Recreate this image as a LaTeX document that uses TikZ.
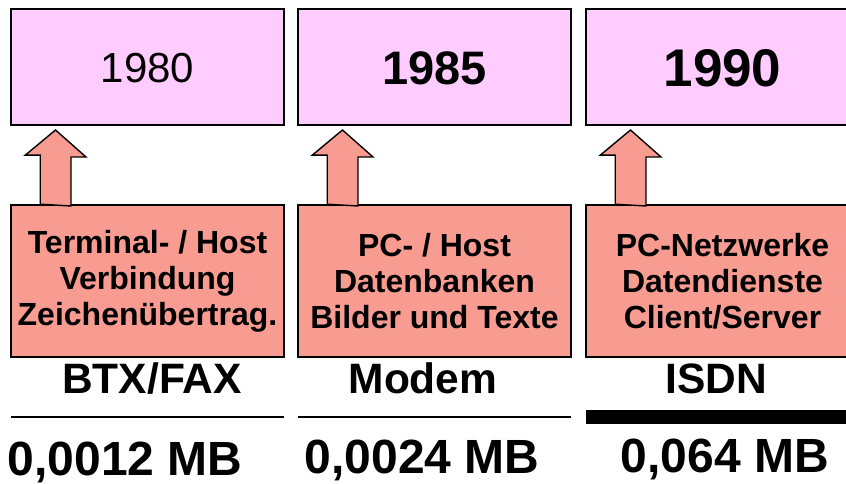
\documentclass[tikz,border=0pt]{standalone}
\usepackage{fontspec}
\setmainfont{Liberation Sans}
\definecolor{toppink}{RGB}{255,204,255}
\definecolor{salmon}{RGB}{248,156,145}
\begin{document}
\begin{tikzpicture}[x=1pt,y=-1pt,
  yearbox/.style={draw=black,line width=2pt,fill=toppink,minimum width=273pt,minimum height=116pt,inner sep=0pt},
  infobox/.style={draw=black,line width=1.6pt,fill=salmon,minimum width=273pt,minimum height=152pt,inner sep=0pt,
    align=center,font=\bfseries\fontsize{32}{36}\selectfont},
  uparrow/.style={draw=black,line width=1.4pt,fill=salmon,line join=miter},
  techlabel/.style={anchor=base,font=\bfseries\fontsize{42.5}{42.5}\selectfont,inner sep=0pt},
  mblabel/.style={anchor=base,font=\bfseries\fontsize{48}{48}\selectfont,inner sep=0pt,text depth=0pt},
  sepline/.style={draw=black,line width=2pt}]
\useasboundingbox (0,0) rectangle (846,484);
\clip (0,0) rectangle (846,484);
\fill[white] (0,0) rectangle (846,484);

% year boxes
\node[yearbox] (t1) at (147.5,67) {};
\node[yearbox] (t2) at (434.5,67) {};
\node[yearbox] (t3) at (722.5,67) {};
\node[anchor=base,inner sep=0pt,font=\fontsize{42}{42}\selectfont] (y1) at (147.5,83) {1980};
\node[anchor=base,inner sep=0pt,font=\bfseries\fontsize{47}{47}\selectfont] (y2) at (434.5,85) {1985};
\node[anchor=base,inner sep=0pt,font=\bfseries\fontsize{53}{53}\selectfont] (y3) at (722.5,87) {1990};

% info boxes
\node[infobox] (b1) at (147.5,281) {Terminal- / Host\\Verbindung\\Zeichenübertrag.};
\node[infobox] (b2) at (434.5,281) {PC- / Host\\Datenbanken\\Bilder und Texte};
\node[infobox] (b3) at (722.5,281) {PC-Netzwerke\\Datendienste\\Client/Server};

% arrows
\foreach \i in {1,2,3}{
  \draw[uparrow] ([xshift=30pt]b\i.north west) -- ++(0,-49) -- ++(-15,0)
    -- ([xshift=45.5pt,yshift=-4pt]t\i.south west) -- ++(30.5,27) -- ++(-15,0) -- ++(0,49) -- cycle;
}

% technology labels
\node[techlabel] (l1) at (152,393) {BTX/FAX};
\node[techlabel] (l2) at (423,393) {Modem};
\node[techlabel] (l3) at (716,393) {ISDN};

% separator lines
\coordinate (s1a) at (11,417); \coordinate (s1b) at (284,417);
\coordinate (s2a) at (298,417); \coordinate (s2b) at (571,417);
\coordinate (s3a) at (586,417); \coordinate (s3b) at (860,417);
\draw[sepline] (s1a) -- (s1b);
\draw[sepline] (s2a) -- (s2b);
\draw[sepline,line width=14pt] (s3a) -- (s3b);

% capacities
\node[mblabel] (m1) at (125,475) {0,0012 MB};
\node[mblabel] (m2) at (422,473) {0,0024 MB};
\node[mblabel] (m3) at (725,472) {0,064 MB};
\end{tikzpicture}
\end{document}
